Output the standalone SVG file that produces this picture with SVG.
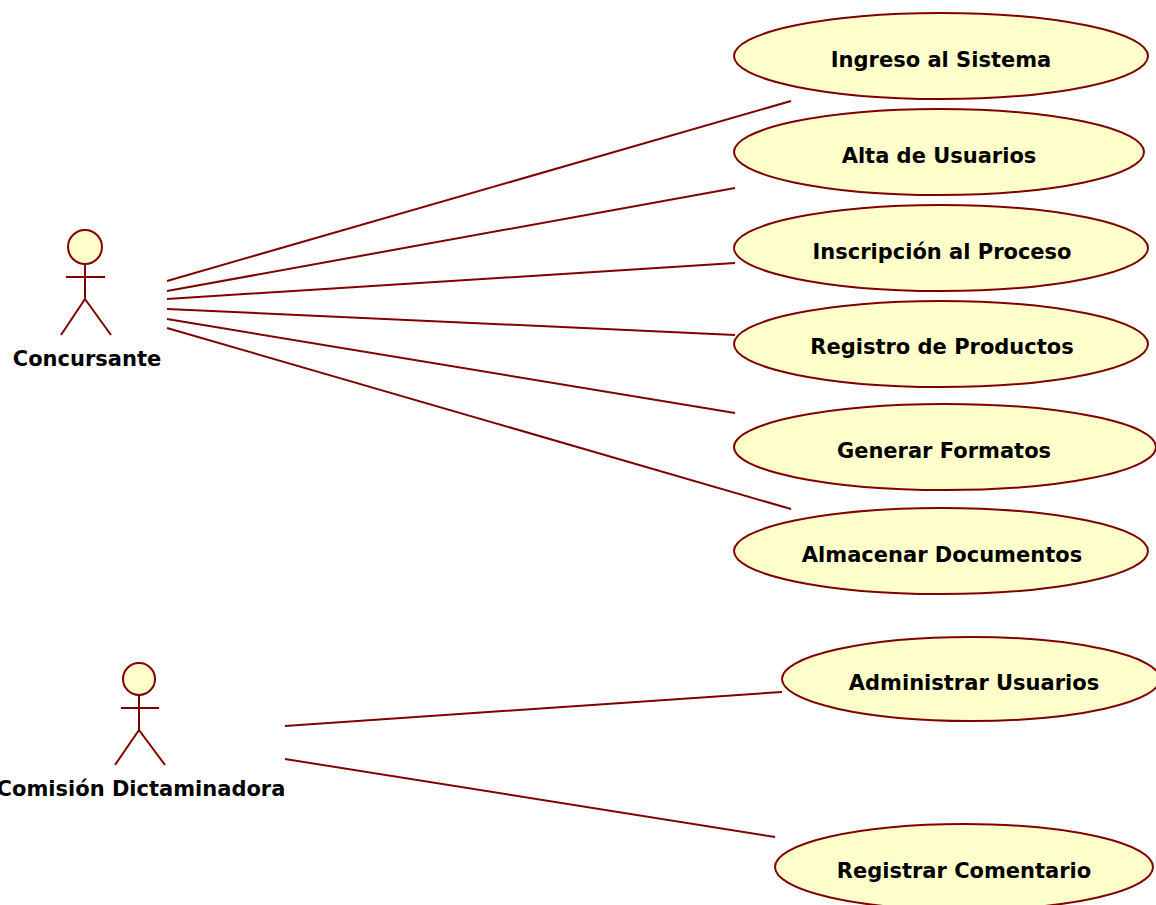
<svg xmlns="http://www.w3.org/2000/svg" width="1156" height="905" viewBox="0 0 1156 905">
<style>
.u{fill:#ffffcb;stroke:#800000;stroke-width:2}
.l{fill:none;stroke:#800000;stroke-width:2}
text{font-family:"DejaVu Sans",Verdana,sans-serif;font-weight:bold;font-size:21px;fill:#000;text-anchor:middle}
</style>
<rect width="1156" height="905" fill="#fff"/>
<g id="connectors" class="l">
<path d="M167 281L791 101M167 291L735 188M167 299L735 263M167 309L735 335M167 319L735 413M167 328L791 509M285 726L782 692M285 759L775 837"/>
</g>
<g id="concursante"><circle class="u" cx="85" cy="247" r="17"/><path class="l" d="M85 264V299M66 277H105M85 299L61 335M85 299L111 335"/><text x="87" y="366">Concursante</text></g>
<g id="comision"><circle class="u" cx="139" cy="679" r="16"/><path class="l" d="M139 695V730M121 708H159M139 730L115 765M139 730L165 765"/><text x="141" y="796">Comisión Dictaminadora</text></g>
<g id="uc1"><ellipse class="u" cx="941" cy="56" rx="207" ry="43"/><text x="941" y="67">Ingreso al Sistema</text></g>
<g id="uc2"><ellipse class="u" cx="939" cy="152" rx="205" ry="43"/><text x="939" y="163">Alta de Usuarios</text></g>
<g id="uc3"><ellipse class="u" cx="941" cy="248" rx="207" ry="43"/><text x="942" y="259">Inscripción al Proceso</text></g>
<g id="uc4"><ellipse class="u" cx="941" cy="344" rx="207" ry="43"/><text x="942" y="354">Registro de Productos</text></g>
<g id="uc5"><ellipse class="u" cx="945" cy="447" rx="211" ry="43"/><text x="944" y="458">Generar Formatos</text></g>
<g id="uc6"><ellipse class="u" cx="941" cy="551" rx="207" ry="43"/><text x="942" y="562">Almacenar Documentos</text></g>
<g id="uc7"><ellipse class="u" cx="971" cy="679" rx="189" ry="42"/><text x="974" y="690">Administrar Usuarios</text></g>
<g id="uc8"><ellipse class="u" cx="964" cy="867" rx="189" ry="43"/><text x="964" y="878">Registrar Comentario</text></g>
</svg>
